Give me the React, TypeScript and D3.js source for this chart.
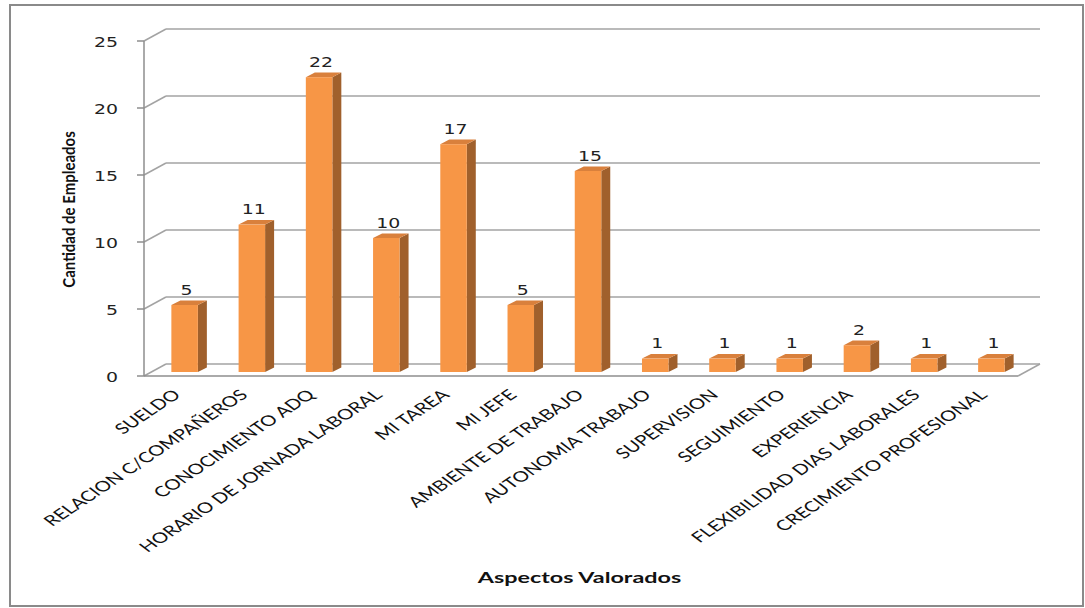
import React from "react";
import * as d3 from "d3";

const categories = [
  "SUELDO",
  "RELACION C/COMPAÑEROS",
  "CONOCIMIENTO ADQ",
  "HORARIO DE JORNADA LABORAL",
  "MI TAREA",
  "MI JEFE",
  "AMBIENTE DE TRABAJO",
  "AUTONOMIA TRABAJO",
  "SUPERVISION",
  "SEGUIMIENTO",
  "EXPERIENCIA",
  "FLEXIBILIDAD DIAS LABORALES",
  "CRECIMIENTO PROFESIONAL",
];
const values = [5, 11, 22, 10, 17, 5, 15, 1, 1, 1, 2, 1, 1];
const yTicks = [0, 5, 10, 15, 20, 25];
const yTitle = "Cantidad de Empleados";
const xTitle = "Aspectos Valorados";

const W = 1085;
const H = 608;
// front plane of the 3D box
const x0 = 144;
const x1 = 1018;
const yTop = 41;
const yBase = 376;
// depth of the box (back wall offset)
const DX = 22;
const DY = -12;
// bar placement inside the depth
const barFront = { dx: 7, dy: -4 };
const barBack = { dx: 9, dy: -4.6 };
const barHalf = 13.25;

const gridColor = "#a3a3a3";
const axisColor = "#8e8e8e";
const frontFill = "#f79646";
const sideFill = "#a0602c";
const topFill = "#d9803c";

const numFont = "'DejaVu Sans', Verdana, sans-serif";
const labelFont = "Lato, 'Open Sans', sans-serif";
const SX = 1.4;

export default function App() {
  const x = d3.scaleBand<string>().domain(categories).range([x0, x1]).padding(0);
  const y = d3.scaleLinear().domain([0, 25]).range([yBase, yTop]);

  return (
    <svg
      width={W}
      height={H}
      style={{ position: "absolute", left: 0, top: 0, background: "#fff" }}
    >
      <rect x={10} y={5} width={1073} height={601} fill="#fff" stroke="#8a8a8a" strokeWidth={2} />

      {/* back wall gridlines and their diagonal links to the front axis */}
      {yTicks.map((t) => (
        <g key={`g${t}`}>
          <line
            x1={x0 + DX}
            x2={x1 + DX}
            y1={y(t) + DY}
            y2={y(t) + DY}
            stroke={gridColor}
            strokeWidth={1.5}
          />
          <line
            x1={x0}
            x2={x0 + DX}
            y1={y(t)}
            y2={y(t) + DY}
            stroke={gridColor}
            strokeWidth={1.5}
          />
          <line x1={x0 - 7} x2={x0} y1={y(t)} y2={y(t)} stroke={axisColor} strokeWidth={1.5} />
          <text
            transform={`translate(118,${y(t) + 5.5}) scale(${SX},1)`}
            textAnchor="end"
            fontFamily={numFont}
            fontSize={13.5}
            fill="#222"
          >
            {t}
          </text>
        </g>
      ))}

      {/* floor front edge and right side */}
      <line x1={x0} x2={x1} y1={yBase} y2={yBase} stroke={axisColor} strokeWidth={1.5} />
      <line x1={x1} x2={x1 + DX} y1={yBase} y2={yBase + DY} stroke={gridColor} strokeWidth={1.5} />
      {/* value axis */}
      <line x1={x0} x2={x0} y1={yTop} y2={yBase} stroke={axisColor} strokeWidth={1.5} />

      {/* bars */}
      {categories.map((c, i) => {
        const cx = (x(c) as number) + x.bandwidth() / 2;
        const v = values[i];
        const fl = cx - barHalf + barFront.dx;
        const fr = cx + barHalf + barFront.dx;
        const fb = yBase + barFront.dy;
        const ft = y(v) + barFront.dy;
        const bx = barBack.dx;
        const by = barBack.dy;
        return (
          <g key={c}>
            <polygon
              points={`${fr},${fb} ${fr + bx},${fb + by} ${fr + bx},${ft + by} ${fr},${ft}`}
              fill={sideFill}
            />
            <polygon
              points={`${fl},${ft} ${fr},${ft} ${fr + bx},${ft + by} ${fl + bx},${ft + by}`}
              fill={topFill}
            />
            <rect x={fl} y={ft} width={fr - fl} height={fb - ft} fill={frontFill} />
            <text
              transform={`translate(${(fl + fr) / 2 + 2},${ft - 10.5}) scale(${SX},1)`}
              textAnchor="middle"
              fontFamily={numFont}
              fontSize={13.5}
              fill="#222"
            >
              {v}
            </text>
            <text
              transform={`translate(${cx + 4},${396}) scale(${SX},1) rotate(-43)`}
              textAnchor="end"
              fontFamily={labelFont}
              fontSize={14.6}
              fill="#111"
            >
              {c}
            </text>
          </g>
        );
      })}

      <text
        transform={`translate(75,209.5) rotate(-90) scale(1,1.18)`}
        textAnchor="middle"
        fontFamily={labelFont}
        fontWeight="bold"
        fontSize={15}
        fill="#111"
      >
        {yTitle}
      </text>
      <text
        transform={`translate(579.5,583) scale(1.46,1)`}
        textAnchor="middle"
        fontFamily={labelFont}
        fontWeight="bold"
        fontSize={16}
        fill="#111"
      >
        {xTitle}
      </text>
    </svg>
  );
}
